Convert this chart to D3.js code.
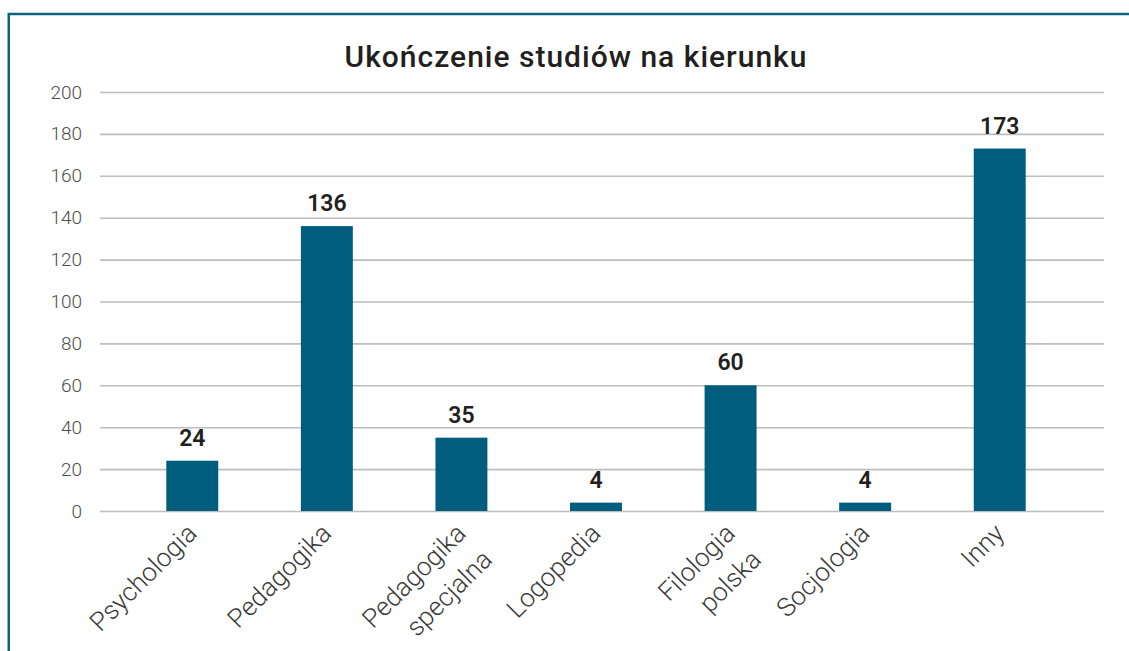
<!DOCTYPE html>
<html>
<head>
<meta charset="utf-8">
<script src="https://cdn.jsdelivr.net/npm/d3@7"></script>
<style>
  body { margin: 0; background: #fff; }
  svg { display: block; font-family: Roboto, "Noto Sans", sans-serif; }
</style>
</head>
<body>
<div id="chart"></div>
<script>
// data
var categories = ["Psychologia", "Pedagogika", "Pedagogika\nspecjalna", "Logopedia", "Filologia\npolska", "Socjologia", "Inny"];
var values = [24, 136, 35, 4, 60, 4, 173];
var yTicks = [0, 20, 40, 60, 80, 100, 120, 140, 160, 180, 200];
var title = "Ukończenie studiów na kierunku";

var width = 1129, height = 651;

var svg = d3.select("#chart")
  .append("svg")
  .attr("width", width)
  .attr("height", height);

// frame (runs off the right and bottom edges)
svg.append("rect")
  .attr("x", 8.75).attr("y", 14)
  .attr("width", 1200).attr("height", 700)
  .attr("fill", "none")
  .attr("stroke", "#0e6383")
  .attr("stroke-width", 2.5);

// title
svg.append("text")
  .attr("x", 576).attr("y", 67)
  .attr("text-anchor", "middle")
  .attr("font-size", 30)
  .attr("font-weight", 500)
  .attr("letter-spacing", 1)
  .attr("fill", "#231f20")
  .text(title);

var y = d3.scaleLinear().domain([0, 200]).range([511, 92]);

var x = d3.scaleBand()
  .domain(categories)
  .range([125, 1067])
  .paddingInner(0.614)
  .paddingOuter(0.307);

// grid + y labels
var yAxis = svg.append("g")
  .attr("transform", "translate(100,0)")
  .call(d3.axisLeft(y).tickValues(yTicks).tickSize(-1004).tickPadding(18));
yAxis.select(".domain").remove();
yAxis.selectAll(".tick line")
  .attr("stroke", "#bdbdbd")
  .attr("stroke-width", 1.6);
yAxis.selectAll(".tick text")
  .attr("font-size", 19)
  .attr("font-weight", 300)
  .attr("fill", "#4d4d4d")
  .attr("font-family", "Roboto, sans-serif");

// bars
svg.selectAll(".bar")
  .data(values)
  .enter()
  .append("rect")
  .attr("class", "bar")
  .attr("x", function(d, i) { return x(categories[i]); })
  .attr("y", function(d) { return y(d); })
  .attr("width", x.bandwidth())
  .attr("height", function(d) { return y(0) - y(d); })
  .attr("fill", "#015d7e");

// value labels
svg.selectAll(".val")
  .data(values)
  .enter()
  .append("text")
  .attr("class", "val")
  .attr("x", function(d, i) { return x(categories[i]) + x.bandwidth() / 2; })
  .attr("y", function(d) { return y(d) - 15; })
  .attr("text-anchor", "middle")
  .attr("font-size", 23)
  .attr("font-weight", 600)
  .attr("fill", "#231f20")
  .text(function(d) { return d; });

// category labels, rotated
var lab = svg.selectAll(".cat")
  .data(categories)
  .enter()
  .append("g")
  .attr("class", "cat")
  .attr("transform", function(d) {
    var cx = x(d) + x.bandwidth() / 2;
    return "translate(" + (cx + 6) + "," + (y(0) + 24) + ")rotate(-45)";
  });

lab.each(function(d) {
  var g = d3.select(this);
  d.split("\n").forEach(function(line, i) {
    g.append("text")
      .attr("x", 0)
      .attr("y", i * 37)
      .attr("text-anchor", "end")
      .attr("font-size", 26)
      .attr("font-weight", 300)
      .attr("fill", "#3a3a3a")
      .text(line);
  });
});
</script>
</body>
</html>
